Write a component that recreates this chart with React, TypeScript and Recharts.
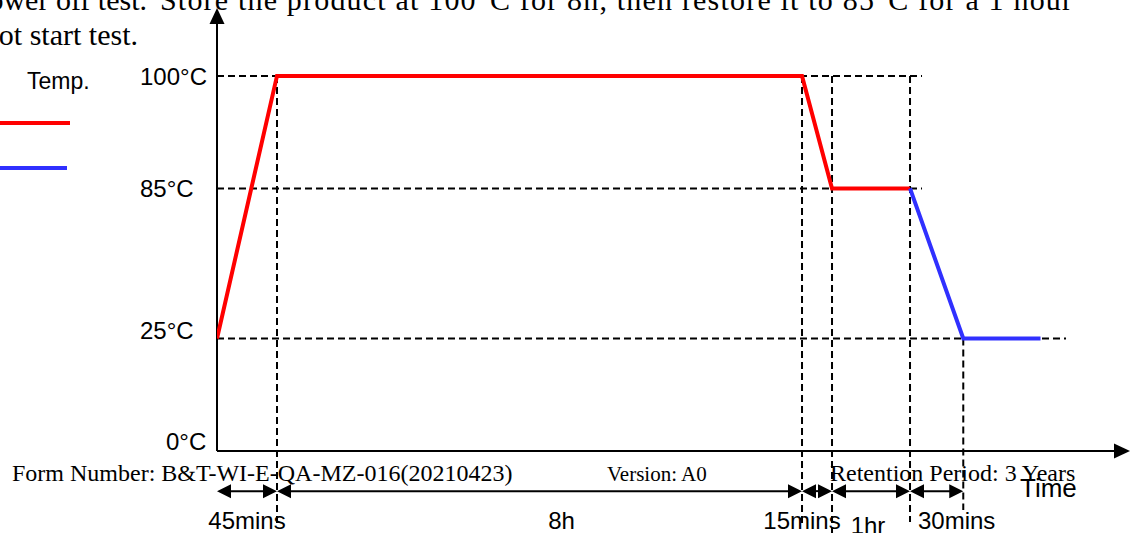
import { LineChart, Line, XAxis, YAxis, ReferenceLine } from 'recharts'

// schematic stage widths along the time axis (the drawing is not to scale)
const stageLabels = ['45mins', '8h', '15mins', '1hr', '30mins']
const stageWidths = [8, 70, 4, 10.4, 7.1]
const holdAfterCool = 10.3

// temperature ticks and the schematic level each one is drawn at
const tempValues = [0, 25, 85, 100]
const tempLevels = [0, 3, 7, 10]

// profile temperatures at each stage boundary
const heatTemps = [25, 100, 100, 85, 85]
const coolTemps = [85, 25, 25]

// where the dashed temperature guides stop
const guideTemps = [100, 85, 25]
const guideEnds = [94, 94, 113.2]

// bottom ends of the dashed stage guides (in levels, below the time axis)
const stageGuideTops = [100, 100, 100, 100, 25]
const stageGuideBottoms = [-1.97, -1.95, -2.19, -1.89, -1.57]

const X_MAX = 121.73
const Y_MAX = 11.81
const DIM_LEVEL = -1.07

const SANS = '"Liberation Sans", Arial, sans-serif'
const SERIF = '"Liberation Serif", "Times New Roman", serif'
const RED = '#ff0000'
const BLUE = '#3030ff'

const levelOf = (t: number) => tempLevels[tempValues.indexOf(t)]

const bounds = stageWidths.reduce<number[]>((acc, w) => [...acc, acc[acc.length - 1] + w], [0])

const heatData = heatTemps.map((t, i) => ({ x: bounds[i], level: levelOf(t) }))
const coolData = coolTemps.map((t, i) => ({
  x: i < 2 ? bounds[4 + i] : bounds[5] + holdAfterCool,
  level: levelOf(t),
}))

// label nudges (px) for the stage names under the dimension arrows
const labelShift = [0, 22, -15, -3, 20]
const labelDrop = [0, 0, 0, 5, 0]

function ArrowLine(p: any) {
  const { x1, y1, x2, y2 } = p
  const a = Math.atan2(y2 - y1, x2 - x1)
  const len = 16
  const half = 7.5
  const bx = x2 - len * Math.cos(a)
  const by = y2 - len * Math.sin(a)
  const pts = [
    [x2, y2],
    [bx - half * Math.sin(a), by + half * Math.cos(a)],
    [bx + half * Math.sin(a), by - half * Math.cos(a)],
  ]
  return (
    <g>
      <line x1={x1} y1={y1} x2={bx} y2={by} stroke="#000" strokeWidth={2} />
      <polygon points={pts.map((q) => q.join(',')).join(' ')} fill="#000" />
    </g>
  )
}

const dimArrow = (label: string, idx: number) => (p: any) => {
  const { x1, y1, x2 } = p
  const len = 14
  const half = 7
  return (
    <g>
      <line x1={x1 + 4} y1={y1} x2={x2 - 4} y2={y1} stroke="#000" strokeWidth={2} />
      <polygon points={`${x1},${y1} ${x1 + len},${y1 - half} ${x1 + len},${y1 + half}`} fill="#000" />
      <polygon points={`${x2},${y1} ${x2 - len},${y1 - half} ${x2 - len},${y1 + half}`} fill="#000" />
      <text
        x={(x1 + x2) / 2 + labelShift[idx]}
        y={y1 + 38 + labelDrop[idx]}
        textAnchor="middle"
        fontFamily={SANS}
        fontSize={24}
        fill="#000"
      >
        {label}
      </text>
    </g>
  )
}

function TempTick(p: any) {
  const { x, y, payload } = p
  const level = payload.value
  const label = `${tempValues[tempLevels.indexOf(level)]}°C`
  const startX = level === 0 ? x - 51 : x - 77
  const dy = level === 0 ? -10 : level === 3 ? -8 : 0
  return (
    <text x={startX} y={y + dy} dy="0.36em" textAnchor="start" fontFamily={SANS} fontSize={24} fill="#000">
      {label}
    </text>
  )
}

export default function App() {
  return (
    <div style={{ position: 'absolute', left: 0, top: 0, width: 1141, height: 533, background: '#fff', overflow: 'hidden' }}>
      <LineChart width={1141} height={533} margin={{ top: 8, right: 11, bottom: 82, left: 157 }}>
        <XAxis type="number" dataKey="x" domain={[0, X_MAX]} hide allowDataOverflow />
        <YAxis
          type="number"
          domain={[0, Y_MAX]}
          ticks={tempLevels}
          width={60}
          axisLine={false}
          tickLine={false}
          tickSize={0}
          tickMargin={0}
          tick={<TempTick />}
          allowDataOverflow
        />

        {/* dashed temperature guides */}
        {guideTemps.map((t, i) => (
          <ReferenceLine
            key={`g-${t}`}
            segment={[{ x: 0, y: levelOf(t) }, { x: guideEnds[i], y: levelOf(t) }]}
            stroke="#000"
            strokeWidth={2}
            strokeDasharray="7 4"
            ifOverflow="visible"
          />
        ))}

        {/* dashed stage guides */}
        {bounds.slice(1).map((b, i) => (
          <ReferenceLine
            key={`s-${i}`}
            segment={[{ x: b, y: levelOf(stageGuideTops[i]) }, { x: b, y: stageGuideBottoms[i] }]}
            stroke="#000"
            strokeWidth={2}
            strokeDasharray="7 4"
            ifOverflow="visible"
          />
        ))}

        {/* axes with arrow heads */}
        <ReferenceLine segment={[{ x: 0, y: 0 }, { x: 0, y: Y_MAX }]} shape={ArrowLine} ifOverflow="visible" />
        <ReferenceLine segment={[{ x: 0, y: 0 }, { x: X_MAX, y: 0 }]} shape={ArrowLine} ifOverflow="visible" />

        {/* stage duration dimension arrows */}
        {stageLabels.map((lab, i) => (
          <ReferenceLine
            key={`d-${lab}`}
            segment={[{ x: bounds[i], y: DIM_LEVEL }, { x: bounds[i + 1], y: DIM_LEVEL }]}
            shape={dimArrow(lab, i)}
            ifOverflow="visible"
          />
        ))}

        <Line data={heatData} dataKey="level" stroke={RED} strokeWidth={4} dot={false} isAnimationActive={false} />
        <Line data={coolData} dataKey="level" stroke={BLUE} strokeWidth={4} dot={false} isAnimationActive={false} />
      </LineChart>

      <svg width={1141} height={533} style={{ position: 'absolute', left: 0, top: 0, pointerEvents: 'none' }}>
        {/* justified paragraph line, cut at the top of the page */}
        <text x={147} y={10} textAnchor="end" fontFamily={SERIF} fontSize={30} fill="#000">
          Power off test.
        </text>
        <text x={160} y={10} textLength={912} lengthAdjust="spacing" fontFamily={SERIF} fontSize={30} fill="#000">
          Store the product at 100°C for 8h, then restore it to 85°C for a 1 hour
        </text>
        <text x={138} y={45} textAnchor="end" fontFamily={SERIF} fontSize={30} fill="#000">
          hot start test.
        </text>

        <text x={27} y={89} fontFamily={SANS} fontSize={23} fill="#000">
          Temp.
        </text>
        <line x1={0} y1={123} x2={70} y2={123} stroke={RED} strokeWidth={4} />
        <line x1={0} y1={168} x2={67} y2={168} stroke={BLUE} strokeWidth={4} />

        <text x={12} y={481} fontFamily={SERIF} fontSize={24} fill="#000">
          Form Number: B&amp;T-WI-E-QA-MZ-016(20210423)
        </text>
        <text x={607} y={481} fontFamily={SERIF} fontSize={21} fill="#000">
          Version: A0
        </text>
        <text x={830} y={481} fontFamily={SERIF} fontSize={24} fill="#000">
          Retention Period: 3 Years
        </text>
        <text x={1020} y={497} fontFamily={SANS} fontSize={26} fill="#000">
          Time
        </text>
      </svg>
    </div>
  )
}
